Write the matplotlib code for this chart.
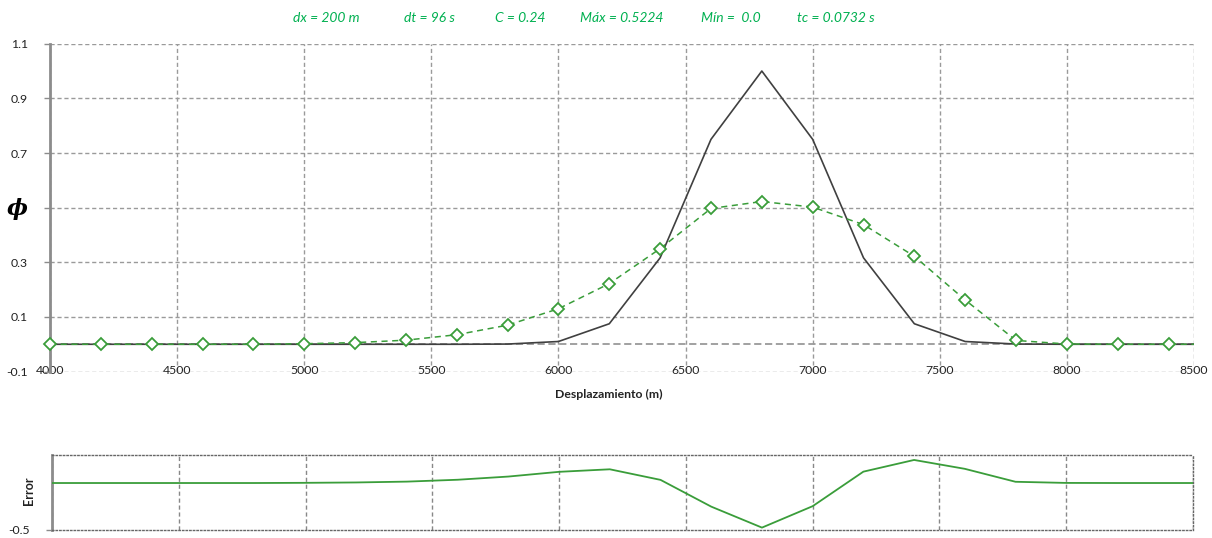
import numpy as np
import matplotlib
matplotlib.use("Agg")
import matplotlib.pyplot as plt

plt.rcParams['font.family'] = ['Lato', 'DejaVu Sans']

# Node positions (m)
x = np.arange(4000, 8601, 200)
# Exact solution (Gaussian pulse centred at 6800 m)
exact = [0, 0, 0, 0, 0, 0, 0, 0, 0, 0.0008, 0.0101, 0.0751, 0.3164, 0.75,
         1.0, 0.75, 0.3164, 0.0751, 0.0101, 0.0008, 0, 0, 0, 0]
# Numerical solution
numeric = [0, 0, 0, 0, 0, 0.002, 0.006, 0.015, 0.035, 0.070, 0.130, 0.222,
           0.350, 0.497, 0.5224, 0.502, 0.438, 0.322, 0.162, 0.014, 0.001,
           0, 0, 0]
error = np.array(numeric) - np.array(exact)

params = [("dx = 200 m", 293), ("dt = 96 s", 404), ("C = 0.24", 495),
          ("Máx = 0.5224", 580), ("Mín =  0.0", 701), ("tc = 0.0732 s", 797)]

xticks = np.arange(4000, 8501, 500)
yticks = [-0.1, 0.1, 0.3, 0.5, 0.7, 0.9, 1.1]
ylabels = ["-0.1", "0.1", "0.3", "", "0.7", "0.9", "1.1"]

W, H = 1212, 538
fig = plt.figure(figsize=(W / 100, H / 100), dpi=100)

GREEN = '#3a9d3a'
GRID = '#9a9a9a'
AXIS = '#8c8c8c'
TXT = '#222222'

def fx(px):
    return px / W

def fy(py):
    return 1 - py / H

# ---------- main panel ----------
ax = fig.add_axes([fx(50), fy(371.6), fx(1194) - fx(50), (371.6 - 43.7) / H])
ax.set_xlim(4000, 8500)
ax.set_ylim(-0.1, 1.1)
ax.set_xticks(xticks)
ax.set_yticks(yticks)
ax.set_yticklabels(ylabels)
ax.grid(True, color=GRID, linestyle=(0, (3, 2)), linewidth=1.0)
ax.set_axisbelow(True)
for s in ['top', 'right', 'bottom']:
    ax.spines[s].set_visible(False)
ax.spines['left'].set_color(AXIS)
ax.spines['left'].set_linewidth(2)
ax.tick_params(axis='y', length=4, width=1, color=AXIS, pad=12,
               labelsize=8.8, labelcolor=TXT)
ax.tick_params(axis='x', length=0, pad=-4.5, labelsize=8.8, labelcolor=TXT)
ax.axhline(0, color=GRID, linestyle=(0, (4, 2)), linewidth=1.3, zorder=1)

ax.plot(x, exact, color='#404040', linewidth=1.2, zorder=3)
ax.plot(x, numeric, color=GREEN, linewidth=1.1, linestyle=(0, (4, 3)), zorder=4)
inside = x <= 8500
ax.plot(x[inside], np.array(numeric)[inside], linestyle='none', marker='D',
        markersize=6.5, markerfacecolor='white', markeredgecolor=GREEN,
        markeredgewidth=1.3, zorder=5, clip_on=False)

fig.text(fx(17), fy(209), "\u03d5", fontsize=16, ha='center', va='center',
         fontweight='bold', style='italic', color='black',
         fontfamily='DejaVu Serif')
fig.text(fx(609), fy(394), "Desplazamiento (m)", fontsize=8.8,
         fontweight='bold', ha='center', va='center', color=TXT)

for txt, px in params:
    fig.text(fx(px), fy(18), txt, fontsize=10, style='italic',
             color='#00b050', ha='left', va='center')

# ---------- error panel ----------
ae = fig.add_axes([fx(52), fy(529.7), fx(1193) - fx(52), (529.7 - 455) / H])
ae.set_xlim(4000, 8500)
ae.set_ylim(-0.5, 0.3)
ae.set_xticks(xticks)
ae.set_xticklabels([])
ae.set_yticks([-0.5])
ae.set_yticklabels(["-0.5"])
ae.grid(True, axis='x', color='#888888', linestyle=(0, (3, 2)), linewidth=1.0)
ae.set_axisbelow(True)
for s in ['top', 'right', 'bottom']:
    ae.spines[s].set_color('#666666')
    ae.spines[s].set_linestyle((0, (1, 1.6)))
    ae.spines[s].set_linewidth(1.0)
ae.spines['left'].set_color(AXIS)
ae.spines['left'].set_linewidth(2)
ae.tick_params(axis='y', length=4, width=1, color=AXIS, pad=12,
               labelsize=8.8, labelcolor=TXT)
ae.tick_params(axis='x', length=0)
ae.plot(x, error, color=GREEN, linewidth=1.3, zorder=3)

fig.text(fx(29), fy(491), "Error", rotation=90, fontsize=9,
         fontweight='bold', ha='center', va='center', color=TXT)

fig.savefig("out.png", dpi=100, facecolor='white')
